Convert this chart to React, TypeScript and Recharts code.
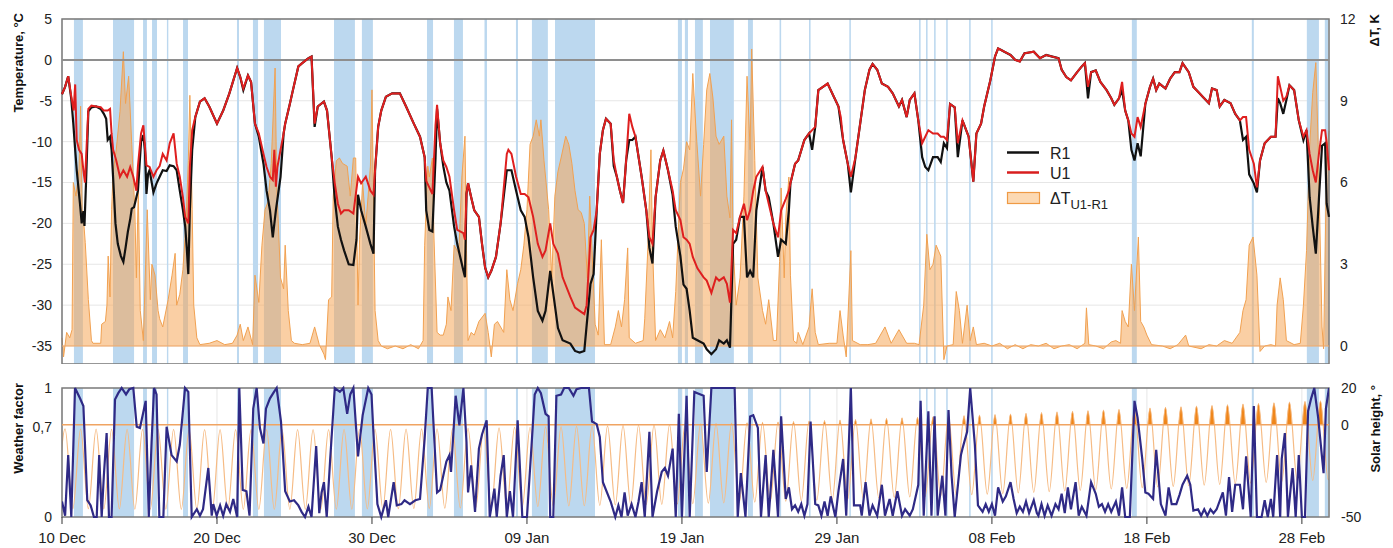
import React from "react";
import {
  ComposedChart,
  Line,
  Area,
  XAxis,
  YAxis,
  CartesianGrid,
  ReferenceArea,
  ReferenceLine,
} from "recharts";

type Pt = [number, number];

// x is days since 10 Dec
const xTicks = [0, 10, 20, 30, 40, 50, 60, 70, 80];
const xTickLabels = ["10 Dec", "20 Dec", "30 Dec", "09 Jan", "19 Jan", "29 Jan", "08 Feb", "18 Feb", "28 Feb"];
const tempTicks = [-35, -30, -25, -20, -15, -10, -5, 0, 5];
const dtTicks = [0, 3, 6, 9, 12];
const wfTicks = [0, 0.7, 1];
const sunTicks = [-50, 0, 20];

// clear-sky periods (day from, day to)
const clearSky: Pt[] = [
  [0.77, 1.35], [3.29, 4.65], [5.23, 5.48], [5.81, 6.13], [6.77, 6.86], [7.81, 8.13], [11.29, 11.42],
  [12.32, 12.65], [13.03, 14.13], [17.55, 18.9], [19.35, 20.06], [23.55, 23.94], [25.29, 25.87],
  [27.26, 27.42], [29.29, 29.42], [30.32, 31.35], [31.81, 34.39], [39.74, 40.0], [40.19, 40.39],
  [40.84, 41.35], [41.81, 43.35], [44.26, 44.58], [46.3, 46.4], [48.2, 48.3], [50.8, 50.9],
  [55.3, 55.4], [55.75, 55.85], [56.27, 56.37], [57.05, 57.15], [58.53, 58.63], [59.95, 60.05],
  [69.03, 69.35], [76.77, 76.9], [80.32, 81.1], [81.48, 81.7],
];

const r1: Pt[] = [
  [0,-4.2],[0.2,-3.3],[0.4,-2.0],[0.6,-4.8],[0.73,-7.8],[0.85,-11],[0.95,-13.5],[1.16,-17.6],[1.27,-20],[1.38,-18.5],[1.45,-20.3],[1.55,-15],[1.7,-6.3],[1.9,-5.8],[2.2,-5.7],[2.5,-6],[2.7,-6.6],[2.85,-7.2],[2.95,-9.8],[3.1,-9.4],[3.2,-11],[3.3,-14.5],[3.45,-20],[3.6,-22.5],[3.8,-24],[3.96,-24.7],[4.1,-23],[4.25,-21],[4.4,-19.5],[4.5,-18.2],[4.65,-18],[4.8,-16.8],[4.9,-16],[5.0,-13],[5.1,-10],[5.25,-9.2],[5.35,-11],[5.45,-16.4],[5.55,-14],[5.65,-13.5],[5.9,-16.2],[6.1,-15.1],[6.3,-14.3],[6.5,-13.5],[6.75,-13.6],[6.95,-12.9],[7.2,-13],[7.4,-13.5],[7.6,-16],[7.8,-18.3],[7.95,-20.4],[8.05,-23],[8.15,-26.2],[8.25,-18.4],[8.4,-11],[8.6,-7],[8.9,-5.1],[9.2,-4.7],[9.5,-5.7],[10,-7.8],[10.4,-6.2],[10.8,-4.1],[11.3,-1.0],[11.5,-2.1],[11.7,-3.7],[12,-1.9],[12.2,-2.7],[12.45,-7.8],[12.7,-9.4],[13,-12.7],[13.2,-16],[13.42,-18.4],[13.6,-21.7],[13.8,-18.4],[14.1,-14.3],[14.3,-9],[14.4,-7.8],[14.7,-5.4],[14.9,-3.7],[15.25,-0.8],[15.5,-0.4],[15.9,0.2],[16.1,0.4],[16.3,-8.2],[16.5,-5.7],[16.9,-5.1],[17.1,-6.2],[17.4,-11.9],[17.6,-17],[17.8,-20.4],[18,-22],[18.2,-23.3],[18.5,-25],[18.8,-25.1],[19.0,-22],[19.1,-16.5],[19.3,-18.4],[19.6,-20.4],[19.9,-22.5],[20.1,-23.7],[20.2,-13.5],[20.4,-8.2],[20.6,-6.2],[20.9,-4.5],[21.3,-4.1],[21.8,-4.1],[22.2,-5.7],[22.7,-7.8],[23.1,-9.4],[23.4,-11.9],[23.5,-18.4],[23.7,-20.8],[23.9,-21],[24.1,-12],[24.2,-6],[24.4,-10.2],[24.6,-13],[24.8,-15],[25,-16],[25.3,-20.4],[25.5,-22.5],[25.9,-25.8],[26.0,-26.6],[26.1,-16.4],[26.2,-15.1],[26.4,-16.8],[26.6,-18.4],[26.9,-19.2],[27.1,-22.5],[27.3,-25.4],[27.5,-26.6],[27.7,-25.8],[28,-24.1],[28.3,-20],[28.7,-13.5],[29,-13.5],[29.3,-16],[29.6,-18.4],[29.85,-19.2],[30.1,-21.7],[30.4,-26.6],[30.7,-30.7],[31,-31.9],[31.2,-30.7],[31.5,-25.8],[31.7,-28.6],[32,-32.8],[32.3,-34.3],[32.8,-34.7],[33.1,-35.6],[33.4,-35.8],[33.7,-35.6],[33.85,-32.5],[34.1,-27.4],[34.3,-26.2],[34.5,-18.4],[34.7,-11.5],[34.9,-8.6],[35.1,-7.2],[35.4,-7.8],[35.6,-13],[35.8,-14.3],[36,-16],[36.2,-17.5],[36.4,-12.3],[36.6,-9.8],[36.8,-9.8],[37,-9.4],[37.4,-14.3],[37.7,-18.4],[37.9,-23],[38.1,-24.9],[38.3,-16.8],[38.6,-12.3],[38.8,-11.1],[39.1,-13.5],[39.4,-16.5],[39.6,-20.4],[39.9,-24],[40.1,-27.5],[40.3,-28],[40.5,-30.7],[40.7,-34],[41,-34.3],[41.4,-34.7],[41.6,-35.4],[41.9,-36],[42.2,-35.4],[42.4,-34.3],[42.7,-34.7],[42.9,-34.3],[43.1,-35.2],[43.3,-22.5],[43.5,-22],[43.75,-19.2],[44,-19.2],[44.2,-26.6],[44.4,-25.8],[44.6,-26.6],[44.8,-18.4],[45.2,-13.1],[45.4,-16],[45.6,-16.8],[45.9,-20],[46.2,-24.1],[46.4,-22],[46.7,-22.5],[46.9,-18.4],[47,-15.1],[47.3,-12.7],[47.5,-12.3],[47.9,-9.8],[48.2,-9],[48.4,-11],[48.6,-8.2],[48.8,-3.7],[49.1,-3.3],[49.4,-2.9],[49.8,-4.5],[50.1,-5.7],[50.25,-7.8],[50.4,-9.8],[50.7,-12.7],[50.9,-16.2],[51.2,-11.9],[51.5,-7.8],[51.8,-3.7],[52.1,-1.2],[52.3,-0.5],[52.6,-1.2],[52.9,-2.9],[53.3,-3.3],[53.6,-4.1],[54,-5.7],[54.2,-4.9],[54.5,-7],[54.7,-4.9],[55,-4.1],[55.25,-7.4],[55.5,-11.9],[55.7,-13.1],[55.9,-13.5],[56.2,-11.9],[56.5,-11.9],[56.7,-12.5],[56.9,-10.2],[57.1,-10.8],[57.3,-5.4],[57.6,-5.8],[57.8,-11.9],[58.1,-7.4],[58.5,-9.4],[58.8,-14.9],[59,-9],[59.3,-7.8],[59.5,-5.7],[59.9,-2.5],[60.2,0.4],[60.4,1.4],[60.6,1.2],[60.8,1.0],[61.2,0.6],[61.5,0],[61.8,-0.2],[62.1,0.8],[62.4,0.9],[62.7,1.0],[63.1,0.2],[63.5,0.6],[63.9,0.4],[64.3,0.2],[64.5,-1.2],[64.8,-2.1],[65.1,-2.5],[65.5,-1.5],[65.8,-0.8],[66,-0.4],[66.2,-4.7],[66.4,-1.5],[66.7,-1.3],[67,-2.7],[67.4,-3.7],[67.7,-4.7],[67.9,-5.5],[68.2,-4.7],[68.4,-3.7],[68.6,-6.2],[68.8,-7.4],[69.0,-11],[69.2,-12.3],[69.4,-10.2],[69.6,-11.8],[69.9,-5.4],[70.2,-3.3],[70.4,-2.3],[70.6,-3.7],[70.8,-2.9],[71.2,-3.5],[71.5,-2.3],[71.8,-1.5],[72.1,-1.5],[72.3,-0.4],[72.7,-1.5],[73,-3.3],[73.3,-3.9],[73.6,-4.5],[74,-5.3],[74.2,-3.5],[74.5,-3.7],[74.7,-5.7],[75,-4.9],[75.4,-5.3],[75.7,-6.6],[76,-7.4],[76.2,-9.8],[76.4,-9.4],[76.6,-14],[76.9,-15.1],[77.1,-16.2],[77.3,-12.3],[77.6,-10.2],[78,-9.4],[78.3,-9.4],[78.45,-4.7],[78.6,-5.3],[78.8,-6.6],[79,-4.9],[79.2,-3.1],[79.5,-3.7],[79.8,-7.4],[80.1,-9.8],[80.3,-8.6],[80.5,-16.8],[80.7,-20.4],[80.9,-23.7],[81.1,-17],[81.3,-10.5],[81.5,-10.2],[81.6,-17.6],[81.75,-19.2],
];

const u1: Pt[] = [
  [0,-4.2],[0.2,-3.3],[0.4,-2.0],[0.6,-4.5],[0.75,-6.2],[0.85,-3.0],[0.95,-9.8],[1.1,-11],[1.27,-11.5],[1.38,-13.5],[1.48,-15],[1.59,-10.5],[1.7,-6],[1.9,-5.6],[2.2,-5.7],[2.5,-5.8],[2.7,-6.2],[2.95,-6.2],[3.1,-6],[3.2,-9],[3.3,-11],[3.5,-12.3],[3.74,-14.3],[3.96,-13.5],[4.2,-14.3],[4.4,-13.1],[4.6,-14.3],[4.8,-16],[4.9,-13],[5.1,-9],[5.25,-8],[5.45,-12.9],[5.65,-13.1],[5.9,-14.3],[6.1,-13.5],[6.3,-13],[6.5,-11.5],[6.75,-12.3],[6.95,-10.2],[7.2,-9],[7.4,-12.7],[7.6,-14.3],[7.8,-16.8],[7.95,-19.2],[8.15,-20],[8.25,-13.1],[8.4,-8.6],[8.6,-7],[8.9,-5.1],[9.2,-4.7],[9.5,-5.7],[10,-7.8],[10.4,-6.2],[10.8,-4.1],[11.3,-1.0],[11.5,-2.1],[11.7,-3.5],[12,-1.9],[12.2,-2.7],[12.45,-7.8],[12.7,-9],[13,-11.5],[13.2,-13.1],[13.42,-14.3],[13.6,-14.7],[13.7,-11],[13.8,-15.5],[13.9,-13.1],[14.1,-11],[14.3,-9],[14.4,-7.8],[14.7,-5.4],[14.9,-3.7],[15.25,-0.8],[15.5,-0.4],[15.9,0.2],[16.1,0.4],[16.3,-7.8],[16.5,-5.7],[16.9,-5.1],[17.1,-6.2],[17.4,-11.9],[17.6,-15.1],[17.8,-17.6],[18,-18.8],[18.2,-18.4],[18.5,-18.4],[18.8,-18.8],[19.1,-14.3],[19.3,-15.1],[19.6,-14.3],[19.9,-16],[20.1,-16.5],[20.2,-13.5],[20.4,-8.2],[20.6,-6.2],[20.9,-4.5],[21.3,-4.1],[21.8,-4.1],[22.2,-5.7],[22.7,-7.8],[23.1,-9.4],[23.4,-11.9],[23.5,-14.8],[23.7,-15.6],[23.9,-16.4],[24.1,-8],[24.2,-5.5],[24.4,-10.2],[24.6,-12.3],[24.8,-13.1],[25,-14.3],[25.3,-18.4],[25.5,-20.8],[25.9,-21.2],[26.0,-22],[26.1,-16.4],[26.2,-15.1],[26.4,-16.8],[26.6,-18.4],[26.9,-19.2],[27.1,-22.5],[27.3,-25.4],[27.5,-26.6],[27.7,-25.8],[28,-24.1],[28.3,-20],[28.7,-11.5],[28.8,-11],[29,-11.5],[29.3,-14.3],[29.6,-16.4],[29.85,-16.4],[30.1,-16.8],[30.4,-19.2],[30.7,-22.5],[31,-24.1],[31.2,-23.3],[31.5,-20],[31.7,-22.5],[32,-23.7],[32.3,-26.6],[32.8,-29],[33.1,-30.3],[33.4,-30.7],[33.7,-31.1],[33.85,-30],[34.1,-21.7],[34.3,-20.8],[34.5,-18.4],[34.7,-11.5],[34.9,-8.6],[35.1,-7.2],[35.4,-7.8],[35.6,-12.3],[35.8,-14.3],[36,-16],[36.2,-17.5],[36.4,-12.3],[36.6,-6.6],[36.8,-8.2],[37,-9.4],[37.4,-14.3],[37.7,-18.4],[37.9,-21.7],[38.1,-22.5],[38.3,-16.8],[38.6,-12.3],[38.8,-11.1],[39.1,-13.5],[39.4,-16],[39.6,-18.4],[39.9,-19.6],[40.1,-21.7],[40.3,-22],[40.5,-22.5],[40.7,-24.1],[41,-25.5],[41.4,-26.6],[41.6,-27],[41.9,-28.5],[42.2,-26.6],[42.4,-27],[42.7,-26.6],[42.9,-27.4],[43.1,-29.7],[43.3,-20.8],[43.5,-21.2],[43.75,-19.2],[44,-17.6],[44.2,-19.6],[44.4,-18.4],[44.6,-16],[44.8,-14.3],[45.2,-13.1],[45.4,-16],[45.6,-17.6],[45.9,-20],[46.2,-21.7],[46.4,-18.4],[46.7,-17],[46.9,-16],[47,-15.1],[47.3,-12.7],[47.5,-12.3],[47.9,-9.8],[48.2,-9],[48.4,-8.6],[48.6,-8.2],[48.8,-3.7],[49.1,-3.3],[49.4,-2.9],[49.8,-4.5],[50.1,-5.7],[50.25,-7],[50.4,-9.8],[50.7,-12.7],[50.9,-14.3],[51.2,-11.9],[51.5,-7.8],[51.8,-3.7],[52.1,-1.2],[52.3,-0.5],[52.6,-1.2],[52.9,-2.9],[53.3,-3.3],[53.6,-4.1],[54,-5.7],[54.2,-4.9],[54.5,-7],[54.7,-4.9],[55,-4.1],[55.25,-7.4],[55.5,-10.2],[55.7,-9.4],[55.9,-8.6],[56.2,-9],[56.5,-9],[56.7,-9.4],[56.9,-9.4],[57.1,-9.8],[57.3,-5.4],[57.6,-5.8],[57.8,-10.2],[58.1,-7.4],[58.5,-9.4],[58.8,-14.9],[59,-9],[59.3,-7.8],[59.5,-5.7],[59.9,-2.5],[60.2,0.4],[60.4,1.4],[60.6,1.2],[60.8,1.0],[61.2,0.6],[61.5,0],[61.8,-0.2],[62.1,0.8],[62.4,0.9],[62.7,1.0],[63.1,0.2],[63.5,0.6],[63.9,0.4],[64.3,0.2],[64.5,-1.2],[64.8,-2.1],[65.1,-2.5],[65.5,-1.5],[65.8,-0.8],[66,-0.4],[66.2,-3.3],[66.4,-1.5],[66.7,-1.3],[67,-2.7],[67.4,-3.7],[67.7,-4.7],[67.9,-5.5],[68.2,-4.7],[68.4,-2.7],[68.6,-6.2],[68.8,-7.4],[69.0,-9],[69.2,-9.4],[69.4,-7],[69.6,-8.2],[69.9,-5.4],[70.2,-3.3],[70.4,-2.3],[70.6,-3.7],[70.8,-2.9],[71.2,-3.5],[71.5,-2.3],[71.8,-1.5],[72.1,-1.5],[72.3,-0.4],[72.7,-1.5],[73,-3.3],[73.3,-3.9],[73.6,-4.5],[74,-5.3],[74.2,-3.5],[74.5,-3.7],[74.7,-5.7],[75,-4.9],[75.4,-5.3],[75.7,-6.6],[76,-7.4],[76.2,-7],[76.4,-7],[76.6,-11],[76.9,-12.7],[77.1,-15.6],[77.3,-12.3],[77.6,-10.2],[78,-9.4],[78.3,-9.4],[78.45,-2.0],[78.6,-3.3],[78.8,-5],[79,-4.5],[79.2,-3.1],[79.5,-3.7],[79.8,-7.4],[80.1,-9.4],[80.3,-8.6],[80.5,-11.5],[80.7,-13.5],[80.9,-15],[81.1,-11.5],[81.3,-8.6],[81.5,-8.6],[81.6,-10.2],[81.75,-13.5],
];

const deltaT: Pt[] = [
  [0,0.3],[0.1,-0.4],[0.3,0.5],[0.5,0.3],[0.65,0.6],[0.73,6],[0.9,5.5],[1.1,6.5],[1.2,8.8],[1.3,5],[1.38,4.7],[1.5,3.8],[1.7,1.7],[1.9,0.2],[2.0,0.1],[2.5,0.1],[2.56,0.8],[2.8,0.9],[2.9,1.5],[2.98,3.3],[3.1,1.8],[3.2,5],[3.3,6.4],[3.5,7.2],[3.74,8.6],[3.96,10.8],[4.1,8.9],[4.3,9.9],[4.5,7.4],[4.7,5],[4.8,2.5],[4.92,5.7],[5.05,1.3],[5.25,0.2],[5.5,5],[5.7,1.7],[5.8,3],[6.0,2.6],[6.2,1.3],[6.3,1.0],[6.5,0.7],[6.85,1.7],[7.1,2.6],[7.3,3.4],[7.4,1.5],[7.6,1.9],[7.8,2.8],[8.0,4.5],[8.15,6.8],[8.25,9.2],[8.4,5],[8.5,1.5],[8.7,0.3],[8.9,0.05],[9.5,0.1],[10,0.2],[10.5,0.05],[11,0.1],[11.3,0.4],[11.5,0.8],[11.7,0.2],[12,0.7],[12.3,0.05],[12.45,2.6],[12.7,1.6],[12.9,3.7],[13.1,5],[13.3,5.3],[13.5,6.7],[13.75,10.2],[13.85,6],[14.1,2.5],[14.3,2.1],[14.4,3.7],[14.6,1.3],[14.8,0.2],[15,0.1],[15.5,0.05],[16,0.1],[16.3,0.7],[16.6,0.05],[16.9,-0.3],[17.0,-0.5],[17.2,1.7],[17.4,1.8],[17.5,5.5],[17.7,6.8],[17.9,6.9],[18.1,6.7],[18.4,6.6],[18.6,5.5],[18.8,6.9],[18.95,6.9],[19.1,1.5],[19.2,3.9],[19.4,6],[19.6,4.4],[19.9,6.6],[20.0,9.4],[20.2,1.3],[20.4,0.2],[20.6,0],[21,-0.1],[21.5,0],[22,-0.1],[22.5,0.05],[23,-0.1],[23.3,0.2],[23.4,3.7],[23.6,6.6],[23.7,6.2],[23.9,6.9],[24.0,4],[24.2,0.5],[24.4,0.4],[24.6,0.4],[24.8,0.8],[24.9,1.8],[25.1,1.3],[25.3,3.7],[25.6,3.4],[25.8,6.2],[26.0,7.7],[26.1,3.5],[26.2,0.2],[26.4,0.5],[26.6,0.4],[26.9,0.9],[27.3,1.2],[27.5,0.5],[27.7,-0.4],[27.9,0.8],[28.1,0.9],[28.5,0.5],[28.7,2.8],[28.9,1.7],[29.1,1.3],[29.4,2.3],[29.6,2.8],[29.8,3.7],[30,5],[30.2,7.4],[30.4,7.7],[30.6,8.3],[30.8,7.7],[30.9,8.3],[31.1,6.8],[31.4,5],[31.6,2.5],[31.8,5.5],[32,6.4],[32.2,6.9],[32.5,7.7],[32.7,7.4],[32.9,6.7],[33.1,5.7],[33.3,5],[33.5,4.9],[33.7,4.5],[33.9,2.5],[34.05,5.5],[34.2,3.5],[34.4,0.8],[34.6,0.4],[34.8,3.9],[35.0,0.05],[35.4,0.05],[35.7,0.7],[35.9,1.3],[36.1,0.7],[36.3,1.7],[36.5,3.6],[36.6,0.3],[37,0.1],[37.5,0.2],[37.6,1],[37.8,3.6],[38.0,7.2],[38.1,3.7],[38.3,0.2],[38.6,0.6],[38.9,0.3],[39.2,0.9],[39.4,0.3],[39.6,2],[39.9,6],[40.1,6.5],[40.3,7.5],[40.5,7.2],[40.7,10],[40.9,8],[41.2,5.5],[41.4,7.4],[41.6,9.4],[41.8,10],[42.0,9.1],[42.2,7.7],[42.4,7.4],[42.7,7.7],[42.9,5.5],[43.1,4.7],[43.2,8.3],[43.3,3.7],[43.5,1.5],[43.75,2.5],[44.0,5.5],[44.2,9.9],[44.4,7.2],[44.5,10.9],[44.7,6.8],[44.9,2.5],[45.2,1.3],[45.4,0.8],[45.6,1.7],[45.9,0.2],[46.1,0.2],[46.3,3.1],[46.4,5.8],[46.6,2.5],[46.7,4.7],[46.9,6.2],[47.0,2.6],[47.2,0.2],[47.4,0.1],[47.5,0.5],[47.8,0.05],[48.2,0.7],[48.4,2.1],[48.6,0.5],[48.8,0.05],[49.5,0.1],[50,0.1],[50.2,1.3],[50.4,0.4],[50.6,-0.4],[50.9,3.5],[51.0,0.2],[51.5,0.05],[52,0.05],[52.5,0.1],[53.1,0.7],[53.5,0.1],[54,0.6],[54.5,0.1],[55,0.1],[55.3,0.05],[55.6,1.5],[55.8,4.1],[56.0,2.8],[56.2,3],[56.4,3.7],[56.7,3.3],[56.9,-0.5],[57.1,0],[57.5,0.05],[57.7,2],[57.9,1.3],[58.1,0.1],[58.4,1.5],[58.6,0.2],[58.8,0.7],[59,0.05],[59.5,0.1],[60,0],[60.5,0.1],[61,-0.1],[61.5,0.05],[62,-0.1],[62.5,0.05],[63,0],[63.5,0.1],[64,-0.1],[64.5,0],[65,0.05],[65.5,-0.1],[66.0,0.1],[66.1,1.4],[66.25,0.05],[66.7,0],[67.2,-0.1],[67.7,0.15],[68,0.2],[68.3,0.1],[68.4,1.3],[68.6,0.9],[68.8,0.7],[69.0,3],[69.2,1.3],[69.45,4],[69.6,0.9],[69.8,0.7],[70.0,0.4],[70.3,0.05],[71,0],[71.5,-0.1],[72,0.05],[72.5,0.4],[72.7,0],[73.5,-0.1],[74,0.05],[74.5,0],[75,0.2],[75.5,0.1],[76,0.5],[76.2,1.3],[76.4,1.7],[76.6,3.7],[76.85,4],[77.1,2.6],[77.3,-0.2],[77.6,0],[78,0.05],[78.3,0],[78.4,1.5],[78.6,2.5],[78.8,1.7],[79,0.2],[79.5,0.05],[79.9,0.1],[80.1,1.5],[80.3,3.5],[80.5,7.3],[80.7,9.3],[80.9,10.4],[81.05,7.4],[81.3,0.7],[81.4,-0.1],[81.6,7],[81.75,7.9],
];

const weatherFactor: Pt[] = [
  [0,0.12],[0.2,0.01],[0.4,0.48],[0.6,0],[0.84,1],[1.16,0.92],[1.38,0.86],[1.63,0.13],[1.85,0.09],[2.06,0],[2.24,0],[2.4,0.48],[2.56,0],[2.7,0.32],[2.88,0.65],[3.03,0],[3.2,0],[3.42,0.91],[3.63,0.96],[3.85,1],[4.13,0.95],[4.34,0.99],[4.6,1],[4.82,0.7],[5.03,0.69],[5.4,0.9],[5.6,0],[5.78,0.58],[5.94,1],[6.1,0.95],[6.28,0],[6.54,0],[6.75,0.7],[7.07,0.48],[7.4,0.43],[7.6,0.56],[7.94,1],[8.15,0.97],[8.37,0],[8.7,0.06],[8.9,0.01],[9.1,0.06],[9.44,0.38],[9.66,0.01],[9.76,0.1],[9.98,0.01],[10.2,0.09],[10.4,0.01],[10.6,0.1],[10.84,0.04],[11.05,0.14],[11.3,0],[11.44,1],[11.66,0.21],[11.9,0.2],[12.1,0.01],[12.34,0.84],[12.56,1],[12.77,0.69],[13.0,0.57],[13.16,0.84],[13.42,0.92],[13.68,0.97],[13.85,1],[14.13,0.74],[14.4,0.2],[14.7,0.12],[14.97,0.13],[15.25,0.09],[15.46,0.04],[15.68,0],[15.9,0.08],[16.1,0],[16.4,0.55],[16.6,0.03],[16.75,0.19],[16.9,0.27],[17.08,0],[17.3,0.44],[17.6,1],[17.93,0.97],[18.15,1],[18.4,0.8],[18.6,0.95],[18.8,1],[19.1,0.47],[19.4,0.79],[19.76,1],[19.97,0.95],[20.1,0.64],[20.35,0.1],[20.6,0],[20.9,0.13],[21.05,0],[21.4,0.27],[21.6,0.09],[21.9,0.1],[22.1,0.13],[22.45,0.1],[22.8,0.13],[23.1,0.14],[23.4,0.61],[23.6,1],[23.85,1],[24.2,0.19],[24.4,0.21],[24.6,0.32],[24.8,0.43],[25.0,0.48],[25.1,0.35],[25.4,0.94],[25.64,0.71],[25.9,1],[26.1,0.58],[26.2,0.19],[26.4,0.4],[26.65,0.04],[26.9,0.53],[27.1,0.64],[27.4,0.75],[27.6,0],[27.9,0.22],[28.05,0],[28.3,0.32],[28.5,0.48],[28.7,0],[28.9,0.2],[29.1,0],[29.4,0.75],[29.7,0],[30.0,0],[30.3,0.56],[30.5,0.95],[30.7,1],[30.9,0.96],[31.2,0.8],[31.4,0.78],[31.5,0],[31.7,0],[31.9,0.94],[32.2,0.95],[32.4,1],[32.7,1],[33.0,0.94],[33.2,0.99],[33.5,1],[34.0,1],[34.2,0.74],[34.5,0.72],[34.7,0.62],[34.9,0.27],[35.4,0.12],[35.7,0],[35.9,0.09],[36.1,0],[36.3,0.19],[36.5,0.01],[36.75,0.1],[37.0,0],[37.2,0.12],[37.4,0.27],[37.6,0],[37.9,0.66],[38.1,0],[38.4,0.2],[38.7,0.35],[38.9,0.38],[39.1,0.32],[39.4,0.53],[39.6,0],[39.8,0.8],[40.0,0],[40.3,0.94],[40.5,0],[40.8,0.97],[41.0,0.96],[41.2,0.95],[41.4,0.94],[41.6,0.35],[41.9,1],[42.2,1],[42.7,1],[43.1,1],[43.4,1],[43.6,0],[43.8,0.34],[44.1,0],[44.4,0.78],[44.6,0.79],[44.9,0.69],[45.1,0],[45.4,0.48],[45.6,0],[45.9,0.52],[46.2,0],[46.4,0.78],[46.7,0.14],[46.9,0.23],[47.1,0.06],[47.3,0.09],[47.5,0.04],[47.7,0.1],[47.9,0.01],[48.1,0.1],[48.3,0.74],[48.6,0.1],[48.8,0.09],[49.0,0.01],[49.2,0.12],[49.4,0.01],[49.6,0.16],[49.9,0],[50.1,0.2],[50.4,0.45],[50.6,0.01],[50.9,1],[51.1,0.09],[51.5,0.09],[51.6,0.01],[51.85,0.27],[52.1,0.01],[52.3,0.09],[52.6,0.01],[52.9,0.25],[53.1,0.01],[53.4,0.14],[53.6,0.01],[53.9,0.2],[54.2,0.01],[54.4,0.06],[54.7,0.01],[54.9,0.06],[55.25,0.25],[55.4,0.9],[55.6,0.01],[55.9,0.82],[56.1,0.01],[56.3,0.78],[56.5,0.01],[56.8,0.32],[57.0,0.01],[57.2,0.83],[57.4,0.32],[57.6,0],[58.0,0.48],[58.1,0.53],[58.4,0.66],[58.6,1],[58.9,0.56],[59.1,0.09],[59.4,0.04],[59.6,0.1],[59.8,0.04],[60.0,0.1],[60.2,0.01],[60.4,0.23],[60.7,0.12],[60.9,0.16],[61.2,0.27],[61.4,0.14],[61.6,0.03],[61.8,0.08],[62.0,0.04],[62.2,0.12],[62.4,0.03],[62.7,0.13],[62.9,0.03],[63.0,0.01],[63.2,0.1],[63.4,0.01],[63.6,0.09],[63.85,0.01],[64.1,0.1],[64.3,0.06],[64.5,0.18],[64.7,0.03],[64.9,0.23],[65.1,0.06],[65.4,0.27],[65.6,0.01],[65.8,0.08],[66.1,0.01],[66.4,0.27],[66.7,0.18],[66.9,0.08],[67.1,0.1],[67.3,0.04],[67.5,0.1],[67.7,0.04],[68.0,0.12],[68.2,0.01],[68.4,0.23],[68.6,0],[68.9,0],[69.2,0.9],[69.4,0.77],[69.7,0.45],[69.9,0.19],[70.1,0.18],[70.4,0.14],[70.6,0.52],[70.9,0.1],[71.2,0.01],[71.4,0.23],[71.6,0.1],[71.9,0.1],[72.1,0.17],[72.3,0.25],[72.6,0.32],[72.8,0.25],[73.0,0.05],[73.3,0.06],[73.5,0.01],[73.7,0.06],[73.9,0.01],[74.1,0.06],[74.3,0.03],[74.5,0.06],[74.9,0.19],[75.1,0.01],[75.3,0.31],[75.5,0.04],[75.7,0.25],[76.0,0.25],[76.2,0.06],[76.4,0.47],[76.7,0],[76.9,0.86],[77.1,0],[77.4,0],[77.6,0.13],[77.8,0],[78.0,0.14],[78.15,0],[78.4,0.48],[78.6,0],[78.7,0.45],[78.9,0.65],[79.1,0],[79.4,0.38],[79.6,0],[79.8,0.48],[80.0,0],[80.2,0],[80.4,0.82],[80.6,0.92],[80.8,1],[81.05,0.77],[81.4,0.34],[81.55,0.84],[81.75,1],
];

// solar height: daily maximum (about 05h on the axis) and minimum (about 17h before it)
const sunHigh = [
  -2.2,-2.3,-2.3,-2.4,-2.4,-2.5,-2.5,-2.5,-2.6,-2.6,
  -2.6,-2.6,-2.6,-2.6,-2.6,-2.6,-2.6,-2.6,-2.5,-2.5,
  -2.4,-2.4,-2.3,-2.2,-2.1,-2.0,-1.9,-1.7,-1.6,-1.4,
  -1.3,-1.1,-1.0,-0.8,-0.7,-0.5,-0.3,-0.2,0.0,0.1,
  0.3,0.5,0.7,0.9,1.1,1.3,1.5,1.8,2.0,2.3,
  2.6,2.9,3.2,3.5,3.8,4.1,4.4,4.7,5.0,5.3,
  5.6,5.9,6.3,6.6,7.0,7.3,7.7,8.0,8.4,8.7,
  9.1,9.5,9.8,10.2,10.5,10.9,11.3,11.6,12.0,12.3,
  12.7,13.0,13.4,
];
const sunLow = [
  -45.4,-45.5,-45.5,-45.6,-45.6,-45.7,-45.7,-45.7,-45.8,-45.8,
  -45.8,-45.8,-45.8,-45.8,-45.8,-45.8,-45.8,-45.8,-45.7,-45.7,
  -45.6,-45.6,-45.5,-45.4,-45.3,-45.2,-45.1,-44.9,-44.8,-44.6,
  -44.5,-44.3,-44.2,-44.0,-43.9,-43.7,-43.5,-43.4,-43.2,-43.1,
  -42.9,-42.7,-42.5,-42.3,-42.1,-41.9,-41.7,-41.4,-41.2,-40.9,
  -40.6,-40.3,-40.0,-39.7,-39.4,-39.1,-38.8,-38.5,-38.2,-37.9,
  -37.6,-37.3,-36.9,-36.6,-36.2,-35.9,-35.5,-35.2,-34.8,-34.5,
  -34.1,-33.7,-33.4,-33.0,-32.7,-32.3,-31.9,-31.6,-31.2,-30.9,
  -30.5,-30.2,-29.8,
];

const X_MAX = 81.75;

function mergeSeries(parts: Record<string, Pt[]>) {
  const rows = new Map<number, Record<string, number>>();
  Object.entries(parts).forEach(([key, pts]) => {
    pts.forEach(([d, v]) => {
      const row = rows.get(d) ?? { d };
      row[key] = v;
      rows.set(d, row);
    });
  });
  return [...rows.values()].sort((a, b) => a.d - b.d);
}

const sunPts: Pt[] = [];
sunLow.forEach((v, n) => {
  sunPts.push([n - 0.3, v]);
  sunPts.push([n + 0.2, sunHigh[n]]);
});

const topRows = mergeSeries({ r1, u1, dt: deltaT });
const bottomRows = mergeSeries({ wf: weatherFactor, sun: sunPts });

const sunMax = Math.max(...sunHigh);
const sunMin = Math.min(...sunLow);
const sunSplit = sunMax / (sunMax - sunMin);

const FONT = "'Liberation Sans', Arial, sans-serif";
const tickStyle = { fontSize: 14, fill: "#222", fontFamily: FONT };

function Titles() {
  const t = { fontFamily: FONT, fontSize: 13, fontWeight: 700, fill: "#111" } as const;
  return (
    <svg width={1393} height={548} style={{ position: "absolute", left: 0, top: 0, pointerEvents: "none" }}>
      <text x={23} y={13} transform="rotate(-90 23 13)" textAnchor="end" {...t}>Temperature, °C</text>
      <text x={23} y={383} transform="rotate(-90 23 383)" textAnchor="end" {...t}>Weather factor</text>
      <text x={1379} y={14} transform="rotate(-90 1379 14)" textAnchor="end" {...t}>ΔT, K</text>
      <text x={1380} y={385} transform="rotate(-90 1380 385)" textAnchor="end" {...t}>Solar height, °</text>
      <g fontFamily={FONT} fontSize={16} fill="#222">
        <line x1={1007} x2={1039} y1={152.5} y2={152.5} stroke="#111" strokeWidth={2.5} />
        <text x={1050} y={159}>R1</text>
        <line x1={1007} x2={1039} y1={172.5} y2={172.5} stroke="#d81e1e" strokeWidth={2.5} />
        <text x={1050} y={179}>U1</text>
        <rect x={1007.5} y={192.5} width={32} height={11} fill="#fcd9b3" stroke="#ef9a44" strokeWidth={1.2} />
        <text x={1050} y={204}>
          ΔT<tspan fontSize={13} dy={5}>U1-R1</tspan>
        </text>
      </g>
    </svg>
  );
}

export default function App() {
  return (
    <div style={{ position: "absolute", left: 0, top: 0, width: 1393, height: 548, background: "#fff", fontFamily: FONT }}>
      <div style={{ position: "absolute", left: 0, top: 0 }}>
        <ComposedChart width={1393} height={364} data={topRows} margin={{ top: 19, right: 0, bottom: 0, left: 0 }}>
          <CartesianGrid yAxisId="t" stroke="#e6e6e6" strokeWidth={1} />
          <XAxis dataKey="d" type="number" domain={[0, X_MAX]} ticks={xTicks} height={0} tick={false} tickLine={false} axisLine={false} />
          <YAxis yAxisId="t" domain={[-37.2, 5]} ticks={tempTicks} width={62} tick={tickStyle} tickLine={false} axisLine={false} tickMargin={4} allowDataOverflow />
          <YAxis yAxisId="dt" orientation="right" domain={[-0.66, 12]} ticks={dtTicks} width={64} tick={tickStyle} tickLine={false} axisLine={false} tickMargin={5} allowDataOverflow />
          {clearSky.map(([a, b], i) => (
            <ReferenceArea key={i} yAxisId="t" x1={a} x2={b} fill="#bcd8ef" fillOpacity={1} stroke="none" />
          ))}
          <ReferenceLine yAxisId="t" y={0} stroke="#8e8e8e" strokeWidth={2} />
          <ReferenceLine yAxisId="dt" y={0} stroke="#f2a866" strokeWidth={1} />
          <Area yAxisId="dt" dataKey="dt" type="linear" stroke="#f1a151" strokeWidth={1} fill="#f5a75a" fillOpacity={0.55} connectNulls isAnimationActive={false} dot={false} activeDot={false} />
          <Line yAxisId="t" dataKey="r1" type="linear" stroke="#111" strokeWidth={2.2} dot={false} connectNulls isAnimationActive={false} activeDot={false} />
          <Line yAxisId="t" dataKey="u1" type="linear" stroke="#df1f1f" strokeWidth={2} dot={false} connectNulls isAnimationActive={false} activeDot={false} />
          <ReferenceArea yAxisId="t" x1={0} x2={X_MAX} fill="none" stroke="#7a7a7a" strokeWidth={1.5} />
        </ComposedChart>
      </div>
      <div style={{ position: "absolute", left: 0, top: 370 }}>
        <ComposedChart width={1393} height={178} data={bottomRows} margin={{ top: 18, right: 0, bottom: 0, left: 0 }}>
          <defs>
            <linearGradient id="sunFill" x1="0" y1="0" x2="0" y2="1">
              <stop offset={0} stopColor="#ef861b" stopOpacity={1} />
              <stop offset={sunSplit} stopColor="#ef861b" stopOpacity={1} />
              <stop offset={sunSplit} stopColor="#ef861b" stopOpacity={0} />
              <stop offset={1} stopColor="#ef861b" stopOpacity={0} />
            </linearGradient>
          </defs>
          <CartesianGrid yAxisId="wf" horizontal={false} stroke="#e6e6e6" />
          <XAxis
            dataKey="d"
            type="number"
            domain={[0, X_MAX]}
            ticks={xTicks}
            allowDataOverflow
            height={31}
            tickFormatter={(v: number) => xTickLabels[xTicks.indexOf(v)] ?? ""}
            tick={{ ...tickStyle, fontSize: 15 }}
            tickLine={{ stroke: "#333" }}
            tickSize={7}
            tickMargin={8}
            axisLine={false}
          />
          <YAxis yAxisId="wf" domain={[0, 1]} ticks={wfTicks} width={62} tick={tickStyle} tickLine={false} axisLine={false} tickMargin={4} tickFormatter={(v: number) => String(v).replace(".", ",")} />
          <YAxis yAxisId="sun" orientation="right" domain={[-50, 20]} ticks={sunTicks} width={64} tick={tickStyle} tickLine={false} axisLine={false} tickMargin={6} />
          {clearSky.map(([a, b], i) => (
            <ReferenceArea key={i} yAxisId="wf" x1={a} x2={b} fill="#bcd8ef" fillOpacity={1} stroke="none" />
          ))}
          <ReferenceLine yAxisId="sun" y={0} stroke="#f0a462" strokeWidth={1.5} />
          <Area yAxisId="sun" dataKey="sun" type="monotone" stroke="#f6bb84" strokeWidth={1.2} fill="url(#sunFill)" fillOpacity={1} connectNulls isAnimationActive={false} dot={false} activeDot={false} />
          <Line yAxisId="wf" dataKey="wf" type="linear" stroke="#2f2a86" strokeWidth={2.2} dot={false} connectNulls isAnimationActive={false} activeDot={false} />
          <ReferenceArea yAxisId="wf" x1={0} x2={X_MAX} fill="none" stroke="#7a7a7a" strokeWidth={1.5} />
        </ComposedChart>
      </div>
      <Titles />
    </div>
  );
}
